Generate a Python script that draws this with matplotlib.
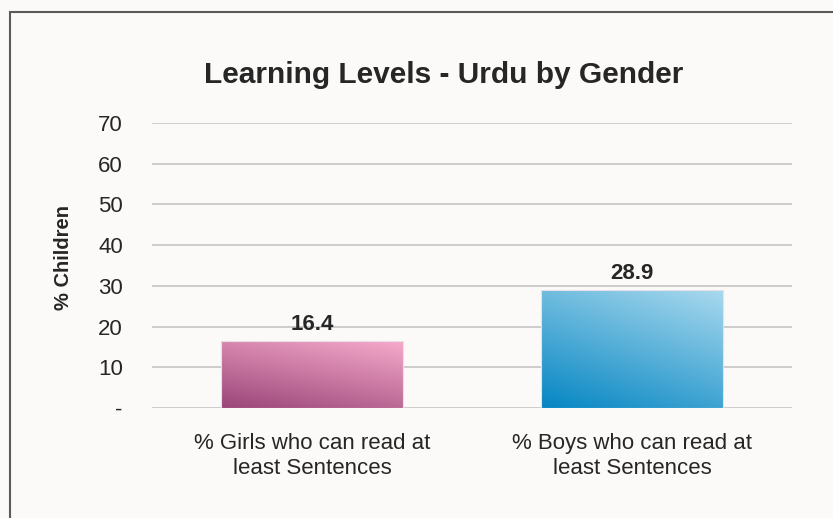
import matplotlib
matplotlib.use("Agg")
import matplotlib.pyplot as plt
import numpy as np
from matplotlib.patches import Rectangle
from matplotlib.colors import LinearSegmentedColormap

plt.rcParams['font.family'] = ['Liberation Sans', 'DejaVu Sans']

categories = ["% Girls who can read at\nleast Sentences", "% Boys who can read at\nleast Sentences"]
values = [16.4, 28.9]
labels = ["16.4", "28.9"]
yticks = [0, 10, 20, 30, 40, 50, 60, 70]
ytick_labels = ["-", "10", "20", "30", "40", "50", "60", "70"]
title = "Learning Levels - Urdu by Gender"
ylabel = "% Children"

grad_colors = [("#9a4679", "#f7aacb"), ("#0586c3", "#a9d9ee")]

W, H = 833, 518
bg = "#fbfaf8"
fig = plt.figure(figsize=(W / 100, H / 100), dpi=100, facecolor=bg)
ax = fig.add_axes([152 / W, 1 - 408 / H, (792 - 152) / W, (408 - 123) / H])
ax.set_facecolor(bg)

# outer frame
fig.patches.append(Rectangle((10 / W, -0.1), 1.2, 1 - 12 / H + 0.1, transform=fig.transFigure,
                             fill=False, edgecolor="#5a5a5a", linewidth=1.5, zorder=0))

x = np.arange(len(categories))
bw = 0.57
ax.set_xlim(-0.5, len(categories) - 0.5)
ax.set_ylim(0, 70)

for yt in yticks:
    ax.axhline(yt, color="#c0c0c0", linewidth=1.1, zorder=1)

bars = ax.bar(x, values, width=bw, color="none", edgecolor="none", zorder=3)
gx, gy = np.meshgrid(np.linspace(0, 1, 200), np.linspace(0, 1, 200))
t = 0.35 * gx + 0.65 * gy
for b, (c0, c1), v, lab in zip(bars, grad_colors, values, labels):
    cmap = LinearSegmentedColormap.from_list("g", [c0, c1])
    x0, w = b.get_x(), b.get_width()
    im = ax.imshow(t, cmap=cmap, origin="lower", extent=[x0, x0 + w, 0, v],
                   aspect="auto", zorder=2, vmin=0, vmax=1, interpolation="bilinear")
    rect = Rectangle((x0, 0), w, v, transform=ax.transData, facecolor="none",
                     edgecolor="#e8e0e8", linewidth=0.8, zorder=3)
    ax.add_patch(rect)
    im.set_clip_path(rect)
    ax.text(b.get_x() + w / 2, v + 1.6, lab, ha="center", va="bottom",
            fontsize=16, fontweight="bold", color="#262626")

ax.set_xlim(-0.5, len(categories) - 0.5)
ax.set_ylim(0, 70)
ax.set_yticks(yticks)
ax.set_yticklabels(ytick_labels, fontsize=16, color="#262626")
ax.set_xticks(x)
ax.set_xticklabels(categories, fontsize=16, color="#262626", linespacing=1.25)
ax.tick_params(axis="y", length=0, pad=21)
ax.tick_params(axis="x", length=0, pad=18)
for s in ax.spines.values():
    s.set_visible(False)

fig.text(64 / W, 1 - 257 / H, ylabel, rotation=90, ha="center", va="center",
         fontsize=14.5, fontweight="bold", color="#262626")
fig.text(444 / W, 1 - 75 / H, title, ha="center", va="center", fontsize=21.5,
         fontweight="bold", color="#262626")

fig.savefig("out.png", dpi=100, facecolor=bg)
